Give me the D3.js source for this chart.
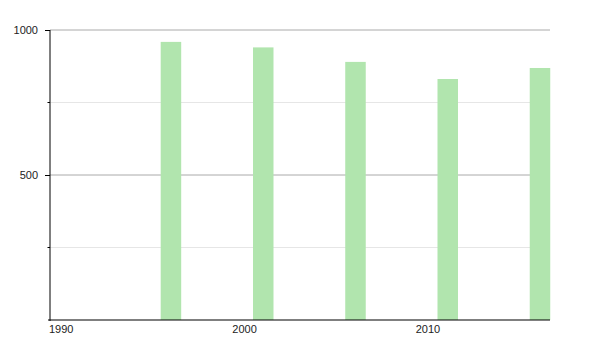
<!DOCTYPE html>
<html>
<head>
<meta charset="utf-8">
<script src="https://cdn.jsdelivr.net/npm/d3@7"></script>
<style>
  body { margin: 0; background: #fff; }
  text { font-family: "Liberation Sans", Arial, sans-serif; font-size: 11px; fill: #222; }
</style>
</head>
<body>
<div class="chart"></div>
<script>
// 人口普查年份與人口
const years = [1996, 2001, 2006, 2011, 2016];
const population = [959, 940, 890, 831, 869];
const majorTicks = [500, 1000];
const minorTicks = [250, 750];
const xTickYears = [1990, 2000, 2010];

const width = 600, height = 350;
const margin = { top: 30, right: 50, bottom: 30, left: 50 };

const svg = d3.select('.chart')
  .append('svg')
  .attr('width', width)
  .attr('height', height);

const x = d3.scaleTime()
  .domain([new Date(1990, 0, 1), new Date(2017, 1, 5)])
  .range([margin.left, width - margin.right]);

const y = d3.scaleLinear()
  .domain([0, 1000])
  .range([height - margin.bottom, margin.top]);

// 格線
svg.selectAll('.minor-grid')
  .data(minorTicks)
  .join('line')
  .attr('x1', margin.left).attr('x2', width - margin.right)
  .attr('y1', (d) => y(d)).attr('y2', (d) => y(d))
  .attr('stroke', '#e6e6e6');

svg.selectAll('.major-grid')
  .data(majorTicks)
  .join('line')
  .attr('x1', margin.left).attr('x2', width - margin.right)
  .attr('y1', (d) => y(d)).attr('y2', (d) => y(d))
  .attr('stroke', '#aaaaaa');

// 長條
const barW = 20.5;
svg.selectAll('.bar')
  .data(years)
  .join('rect')
  .attr('class', 'bar')
  .attr('x', (d) => x(new Date(d, 0, 1)))
  .attr('width', barW)
  .attr('y', (d, i) => y(population[i]))
  .attr('height', (d, i) => y(0) - y(population[i]))
  .attr('fill', '#b1e5ae');

// Y 軸
const yAxis = svg.append('g')
  .attr('transform', `translate(${margin.left},0)`)
  .attr('color', '#000')
  .call(d3.axisLeft(y).tickValues(majorTicks).tickSize(5).tickPadding(7).tickFormat(d3.format('d')));
yAxis.select('.domain').attr('d', `M0,${y(1000)}V${y(0) + 1}`);
yAxis.selectAll('text').attr('fill', '#222').style('font-size', '11px');

svg.append('g')
  .attr('transform', `translate(${margin.left},0)`)
  .selectAll('line')
  .data(minorTicks)
  .join('line')
  .attr('x1', -2.5).attr('x2', 0)
  .attr('y1', (d) => y(d)).attr('y2', (d) => y(d))
  .attr('stroke', '#000');

// X 軸
svg.append('line')
  .attr('x1', margin.left - 2).attr('x2', width - margin.right)
  .attr('y1', y(0)).attr('y2', y(0))
  .attr('stroke', '#000')
  .attr('stroke-width', 1.2);

svg.selectAll('.x-label')
  .data(xTickYears)
  .join('text')
  .attr('x', (d, i) => x(new Date(d, 0, 1)) - 1 - i * 1.2)
  .attr('y', y(0) + 13)
  .attr('text-anchor', 'start')
  .text((d) => d);
</script>
</body>
</html>
